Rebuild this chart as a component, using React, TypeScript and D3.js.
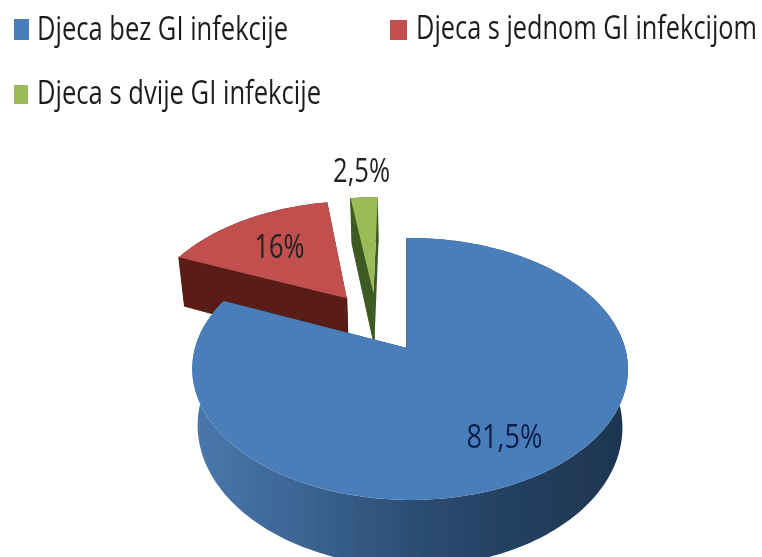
import React from "react";
import * as d3 from "d3";

// shares of children
const values = [81.5, 16, 2.5];
const legendLabels = ["Djeca bez GI infekcije", "Djeca s jednom GI infekcijom", "Djeca s dvije GI infekcije"];
const topColors = ["#4a7ebb", "#c0504d", "#9bbb59"];
const wallColors = ["#1f3a5c", "#5a1b19", "#3d5a22"];

// how far each slice is pulled out, in pie radii
const explodeX = [0, -0.3, -0.168];
const explodeZ = [0, -0.418, -0.463];
const labelRadius = [0.74, 0.63, 1.34];
const labelWidth = [76, 50, 57];

const legendX = [14, 390, 14];
const legendY = [19, 20, 85];
const legendSize = [15, 17, 14];
const legendHeight = [21, 20, 19];
const legendTextX = [37, 416, 37];
const legendBaseline = [40, 39, 104];
const legendTextWidth = [251, 341, 284];

const width = 762;
const height = 557;
const cx = 407;
const apexY = 348;
const radiusX = 215;
const radiusY = 127.6;
const persZ = 0.16;
const persX = 0.014;
const depth = 56;
const shrink = 0.975;
const squeeze = 0.79; // the text in the picture is squashed sideways

type Pt = [number, number];

// plane point -> screen, with a little perspective
const project = (u: number, w: number, low = false): Pt => {
  const den = 1 - persZ * w - persX * u;
  const x = (radiusX * u) / den;
  const y = apexY + (radiusY * w) / den;
  return low ? [cx + x * shrink, y + depth / den] : [cx + x, y];
};

const line = d3.line<Pt>();
const pie = d3.pie<number>().sort(null);
const slices = pie(values);

const arcPoints = (i: number, low = false): Pt[] => {
  const { startAngle, endAngle } = slices[i];
  const n = Math.ceil((endAngle - startAngle) / 0.02);
  return d3.range(n + 1).map((k) => {
    const t = startAngle + ((endAngle - startAngle) * k) / n;
    return project(explodeX[i] + Math.sin(t), explodeZ[i] - Math.cos(t), low);
  });
};

const formatValue = (v: number) => d3.format(".3~g")(v).replace(".", ",") + "%";

const Slice = ({ i }: { i: number }) => {
  const top = arcPoints(i);
  const bottom = arcPoints(i, true);
  const apex = project(explodeX[i], explodeZ[i]);
  const apexLow = project(explodeX[i], explodeZ[i], true);
  const rimFill = i === 0 ? "url(#blueRim)" : wallColors[i];
  return (
    <g>
      <path d={line([apex, top[0], bottom[0], apexLow])! + "Z"} fill={wallColors[i]} stroke={wallColors[i]} />
      <path
        d={line([apex, top[top.length - 1], bottom[bottom.length - 1], apexLow])! + "Z"}
        fill={wallColors[i]}
      />
      <path d={line([...top, ...bottom.reverse()])! + "Z"} fill={rimFill} />
      <path d={line([apex, ...top])! + "Z"} fill={topColors[i]} />
    </g>
  );
};

export default function App() {
  const font = "'Open Sans', sans-serif";
  return (
    <svg
      width={width}
      height={height}
      viewBox={`0 0 ${width} ${height}`}
      style={{ position: "absolute", left: 0, top: 0, background: "#fff" }}
    >
      <defs>
        <linearGradient id="blueRim" gradientUnits="userSpaceOnUse" x1={192} x2={628} y1={0} y2={0}>
          <stop offset="0" stopColor="#4a78ac" />
          <stop offset="0.25" stopColor="#3c6594" />
          <stop offset="0.5" stopColor="#2d4e73" />
          <stop offset="0.75" stopColor="#233f5f" />
          <stop offset="1" stopColor="#1e3550" />
        </linearGradient>
        <filter id="soft" x="-5%" y="-5%" width="110%" height="110%">
          <feGaussianBlur stdDeviation="0.6" />
        </filter>
      </defs>
      <g filter="url(#soft)">
        <Slice i={1} />
        <Slice i={2} />
        <Slice i={0} />

        {legendLabels.map((label, i) => (
          <g key={label}>
            <rect x={legendX[i]} y={legendY[i]} width={legendSize[i]} height={legendHeight[i]} fill={topColors[i]} />
            <text
              transform={`translate(${legendTextX[i]},${legendBaseline[i]}) scale(${squeeze},1)`}
              fontFamily={font}
              fontSize={32}
              fill="#1e1e1e"
              textLength={legendTextWidth[i] / squeeze}
              lengthAdjust="spacingAndGlyphs"
            >
              {label}
            </text>
          </g>
        ))}

        {slices.map((s, i) => {
          const mid = (s.startAngle + s.endAngle) / 2;
          const [x, y] = project(
            explodeX[i] + labelRadius[i] * Math.sin(mid),
            explodeZ[i] - labelRadius[i] * Math.cos(mid)
          );
          return (
            <text
              key={i}
              transform={`translate(${x},${y}) scale(${squeeze},1)`}
              dy="0.36em"
              textAnchor="middle"
              fontFamily={font}
              fontSize={32}
              fill={i === 0 ? "#101f48" : "#222"}
              textLength={labelWidth[i] / squeeze}
              lengthAdjust="spacingAndGlyphs"
            >
              {formatValue(values[i])}
            </text>
          );
        })}
      </g>
    </svg>
  );
}
